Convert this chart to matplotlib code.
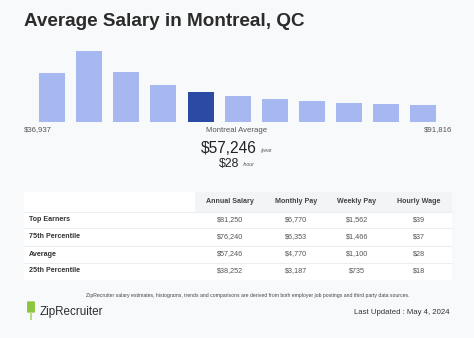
import matplotlib
matplotlib.use("Agg")
import matplotlib.pyplot as plt
from matplotlib.patches import Rectangle, FancyBboxPatch

plt.rcParams['font.family'] = ['Liberation Sans', 'DejaVu Sans']

W, H = 474, 338

# histogram of salaries (relative counts)
bar_heights = [49, 71, 50, 37, 30, 26, 23, 21, 19, 18, 17]
highlight = 4
low_label = "$36,937"
high_label = "$91,816"
avg_year = "$57,246"
avg_hour = "$28"

col_headers = ["Annual Salary", "Monthly Pay", "Weekly Pay", "Hourly Wage"]
row_labels = ["Top Earners", "75th Percentile", "Average", "25th Percentile"]
annual = ["$81,250", "$76,240", "$57,246", "$38,252"]
monthly = ["$6,770", "$6,353", "$4,770", "$3,187"]
weekly = ["$1,562", "$1,466", "$1,100", "$735"]
hourly = ["$39", "$37", "$28", "$18"]


def fx(px):
    return px / W


def fy(py):
    return 1 - py / H


fig = plt.figure(figsize=(W / 100, H / 100), dpi=100)
fig.patch.set_facecolor("#f8f9fb")

# title
fig.text(fx(24), fy(21), "Average Salary in Montreal, QC", fontsize=13.6, fontweight="bold",
         color="#2b2b2b", ha="left", va="center")

# histogram
ax = fig.add_axes([fx(24), fy(122), fx(452) - fx(24), fy(40) - fy(122)])
ax.set_facecolor("none")
colors = ["#2a4aa3" if i == highlight else "#a6b8ef" for i in range(len(bar_heights))]
ax.bar(range(len(bar_heights)), bar_heights, width=0.70, color=colors)
ax.set_xlim(-0.754, 10.77)
ax.set_ylim(0, 82)
ax.axis("off")

lab_kw = dict(fontsize=5.6, color="#555555", va="center")
fig.text(fx(24), fy(130), low_label, ha="left", **lab_kw)
fig.text(fx(237), fy(130), "Montreal Average", ha="center", **lab_kw)
fig.text(fx(452), fy(130), high_label, ha="right", **lab_kw)

fig.text(fx(257), fy(148.5), avg_year, fontsize=11.2, color="#222222", ha="right", va="center")
fig.text(fx(260), fy(150.5), "/year", fontsize=3.8, color="#555555", ha="left", va="center", style="italic")
fig.text(fx(239), fy(163.5), avg_hour, fontsize=8.8, color="#222222", ha="right", va="center")
fig.text(fx(242), fy(164.5), "/hour", fontsize=3.8, color="#555555", ha="left", va="center", style="italic")

# table
fig.add_artist(Rectangle((fx(24), fy(280)), fx(452) - fx(24), fy(192) - fy(280),
                         transform=fig.transFigure, facecolor="white", edgecolor="none"))
fig.add_artist(Rectangle((fx(195), fy(212)), fx(452) - fx(195), fy(192) - fy(212),
                         transform=fig.transFigure, facecolor="#f3f4f6", edgecolor="none"))
for ly in [212, 228, 245.5, 262.5]:
    fig.add_artist(plt.Line2D([fx(24), fx(452)], [fy(ly), fy(ly)], transform=fig.transFigure,
                              color="#eceef1", lw=0.8))

col_x = [230, 296, 357, 419]
row_y = [219.7, 236.8, 254, 270.8]
for cx, name in zip(col_x, col_headers):
    fig.text(fx(cx), fy(201.5), name, fontsize=5.1, fontweight="bold", color="#444444",
             ha="center", va="center")
for ry, name in zip(row_y, row_labels):
    fig.text(fx(28.7), fy(ry), name, fontsize=5.1, fontweight="bold", color="#333333",
             ha="left", va="center")
for cx, vals in zip(col_x, [annual, monthly, weekly, hourly]):
    for ry, v in zip(row_y, vals):
        fig.text(fx(cx), fy(ry), v, fontsize=5.2, color="#555555", ha="center", va="center")

# footer
fig.text(fx(248), fy(296), "ZipRecruiter salary estimates, histograms, trends and comparisons are derived "
         "from both employer job postings and third party data sources.",
         fontsize=3.7, color="#444444", ha="center", va="center")

# logo
fig.add_artist(FancyBboxPatch((fx(28), fy(312)), fx(34) - fx(28), fy(302) - fy(312),
                              boxstyle="round,pad=0.002", transform=fig.transFigure,
                              facecolor="#8cc63f", edgecolor="none"))
fig.add_artist(Rectangle((fx(30.3), fy(320)), fx(31.7) - fx(30.3), fy(312) - fy(320),
                         transform=fig.transFigure, facecolor="#b5db7e", edgecolor="none"))
fig.text(fx(39.5), fy(312), "ZipRecruiter", fontsize=8.4, color="#2d2d2d", ha="left", va="center")
fig.text(fx(450), fy(312.5), "Last Updated : May 4, 2024", fontsize=5.6, color="#333333",
         ha="right", va="center")

fig.savefig("out.png", dpi=100, facecolor=fig.get_facecolor())
